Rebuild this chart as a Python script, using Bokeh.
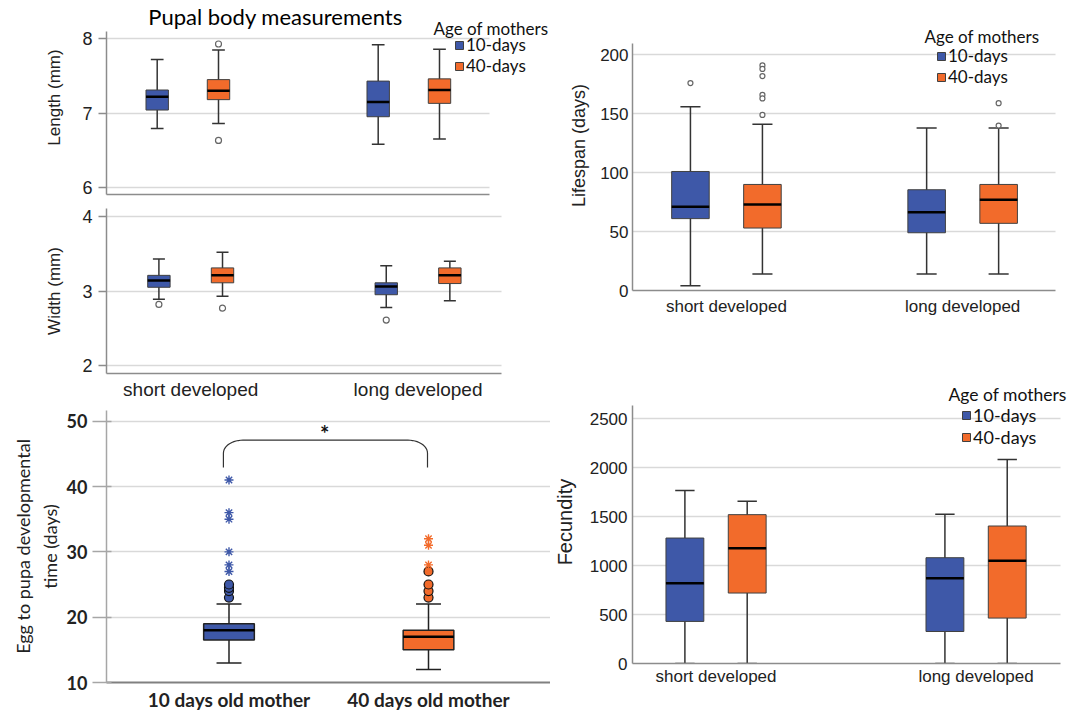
import numpy as np
from bokeh.plotting import figure
from bokeh.models import Range1d, Label, Legend, LegendItem, ColumnDataSource, FixedTicker
from bokeh.transform import dodge
from bokeh.layouts import row, column
from bokeh.embed import file_html
from bokeh.resources import INLINE
from bokeh.core.properties import value

BLUE = "#3E58A8"
ORANGE = "#F26B2B"
GRID = "#D9D9D9"
AXIS = "#8C8C8C"
SPSS = "Liberation Sans"
OFFICE = "Lato"

# ---------------- data ----------------
groups = ["short developed", "long developed"]
series = ["10-days", "40-days"]

# Pupal length (mm)  [short, long]
len10_lo = [6.79, 6.58]; len10_q1 = [7.04, 6.95]; len10_med = [7.22, 7.15]; len10_q3 = [7.31, 7.43]; len10_hi = [7.72, 7.92]
len40_lo = [6.86, 6.65]; len40_q1 = [7.18, 7.13]; len40_med = [7.30, 7.31]; len40_q3 = [7.45, 7.46]; len40_hi = [7.85, 7.86]
len40_out_grp = ["short developed", "short developed"]; len40_out_val = [7.93, 6.63]

# Pupal width (mm)
wid10_lo = [2.89, 2.78]; wid10_q1 = [3.05, 2.95]; wid10_med = [3.14, 3.06]; wid10_q3 = [3.21, 3.11]; wid10_hi = [3.43, 3.34]
wid40_lo = [2.93, 2.87]; wid40_q1 = [3.11, 3.10]; wid40_med = [3.21, 3.21]; wid40_q3 = [3.31, 3.31]; wid40_hi = [3.52, 3.40]
wid10_out_grp = ["short developed", "long developed"]; wid10_out_val = [2.82, 2.61]
wid40_out_grp = ["short developed"]; wid40_out_val = [2.77]

# Lifespan (days)
life10_lo = [4, 14]; life10_q1 = [61, 49]; life10_med = [71, 66.5]; life10_q3 = [101, 85.5]; life10_hi = [156, 138]
life40_lo = [14, 14]; life40_q1 = [53, 57]; life40_med = [73, 77]; life40_q3 = [90, 90]; life40_hi = [141, 138]
life10_out_grp = ["short developed"]; life10_out_val = [176]
life40_out_grp = ["short developed"] * 6 + ["long developed"] * 2
life40_out_val = [191, 188, 182, 166, 163, 149, 159, 140]

# Fecundity
fec10_lo = [0, 0]; fec10_q1 = [430, 327]; fec10_med = [819, 870]; fec10_q3 = [1282, 1081]; fec10_hi = [1767, 1525]
fec40_lo = [0, 0]; fec40_q1 = [720, 464]; fec40_med = [1177, 1050]; fec40_q3 = [1521, 1405]; fec40_hi = [1658, 2084]

# Egg to pupa developmental time (days)
mothers = ["10 days old mother", "40 days old mother"]
egg_lo = [13, 12]; egg_q1 = [16.5, 15]; egg_med = [18, 17]; egg_q3 = [19, 18]; egg_hi = [22, 22]
egg10_mild = [23, 24, 24.5, 25]; egg40_mild = [23, 24, 25, 27]
egg10_extreme = [27, 28, 30, 35, 36, 41]; egg40_extreme = [28, 31, 32]


# ---------------- helpers ----------------
def make_fig(w, h, xr, yr, mb):
    p = figure(width=w, height=h, x_range=Range1d(*xr), y_range=Range1d(*yr),
               output_backend="svg", toolbar_location=None,
               min_border_left=mb[0], min_border_right=mb[1],
               min_border_top=mb[2], min_border_bottom=mb[3])
    p.outline_line_color = None
    p.xgrid.grid_line_color = None
    p.ygrid.grid_line_color = GRID
    p.ygrid.grid_line_width = 1.5
    return p


def style_y(p, ticks, label, font, size, lsize, tick_out, standoff, lstand, bold=False, tick_in=0):
    ax = p.yaxis[0]
    ax.ticker = FixedTicker(ticks=ticks)
    ax.axis_label = label
    ax.axis_label_text_font = font
    ax.axis_label_text_font_size = f"{lsize}px"
    ax.axis_label_text_font_style = "normal"
    ax.axis_label_text_color = "#222222"
    ax.axis_label_standoff = lstand
    ax.major_label_text_font = font
    ax.major_label_text_font_size = f"{size}px"
    ax.major_label_text_font_style = "bold" if bold else "normal"
    ax.major_label_text_color = "#222222"
    ax.major_label_standoff = standoff
    ax.major_tick_out = tick_out
    ax.major_tick_in = tick_in
    ax.major_tick_line_color = AXIS if tick_out else None
    ax.major_tick_line_width = 1.5
    ax.minor_tick_line_color = None
    ax.axis_line_color = AXIS
    ax.axis_line_width = 1.5


def style_x(p, cats, font, size, standoff, end, bold=False, color=AXIS, width=1.5):
    ax = p.xaxis[0]
    ax.ticker = FixedTicker(ticks=list(range(len(cats))))
    ax.major_label_overrides = {i: c for i, c in enumerate(cats)}
    ax.major_label_text_font = font
    ax.major_label_text_font_size = f"{size}px"
    ax.major_label_text_font_style = "bold" if bold else "normal"
    ax.major_label_text_color = "#222222"
    ax.major_label_standoff = standoff
    ax.major_tick_line_color = None
    ax.minor_tick_line_color = None
    ax.axis_line_color = color
    ax.axis_line_width = width
    ax.bounds = (p.x_range.start, end)
    p.ygrid.cross_bounds = (p.x_range.start, end)


def draw_box(p, cats, lo, q1, med, q3, hi, off, w, cap, color,
             outline="#404040", whisk="#333333", medw=2.5, boxw=1.0, pos=None):
    if pos is None:
        pos = list(range(len(cats)))
    src = ColumnDataSource(dict(cat=cats, pos=pos, lo=lo, q1=q1, med=med, q3=q3, hi=hi))
    xc = dodge("pos", off)
    p.segment(x0=xc, y0="lo", x1=xc, y1="hi", source=src, line_color=whisk, line_width=1.5)
    for fld in ("lo", "hi"):
        p.segment(x0=dodge("pos", off - cap / 2), y0=fld, x1=dodge("pos", off + cap / 2), y1=fld,
                  source=src, line_color=whisk, line_width=1.5)
    r = p.vbar(x=dodge("pos", off), width=w, bottom="q1", top="q3", source=src,
               fill_color=color, line_color=outline, line_width=boxw)
    p.segment(x0=dodge("pos", off - w / 2), y0="med", x1=dodge("pos", off + w / 2), y1="med",
              source=src, line_color="black", line_width=medw)
    return r


def draw_pts(p, cats, all_cats, vals, off, **kw):
    src = ColumnDataSource(dict(cat=cats, pos=[all_cats.index(c) for c in cats], val=vals))
    p.scatter(x=dodge("pos", off), y="val", source=src, **kw)


def add_legend(p, r10, r40, loc, spacing, fsize):
    lg = Legend(items=[LegendItem(label=series[0], renderers=[r10]),
                       LegendItem(label=series[1], renderers=[r40])],
                location=loc, orientation="vertical")
    lg.background_fill_alpha = 0
    lg.border_line_color = None
    lg.padding = 0
    lg.margin = 0
    lg.spacing = spacing
    lg.glyph_width = 10
    lg.glyph_height = 10
    lg.label_standoff = 2
    lg.label_height = 10
    lg.label_text_font = OFFICE
    lg.label_text_font_size = f"{fsize}px"
    lg.label_text_color = "#111111"
    lg.label_text_baseline = "middle"
    p.add_layout(lg)


def add_text(p, x, y, text, size, align="left", font=OFFICE, color="#111111"):
    p.add_layout(Label(x=x, y=y, x_units="screen", y_units="screen", text=text,
                       text_font=font, text_font_size=f"{size}px", text_align=align,
                       text_baseline="middle", text_color=color))


OUT = dict(marker="circle", size=6, fill_color="white", line_color="#666666", line_width=1.2)

# Left column: frames 106..550 px ; right column: frames 627..1071 px

# ---------------- Length ----------------
p1 = make_fig(550, 200, (-0.3681, 1.641), (5.902, 8.516), (106, 0, 0, 6))
style_y(p1, [6, 7, 8], "Length (mm)", SPSS, 18, 17, 8, 6, 15)
p1.yaxis[0].bounds = (5.902, 8.10)
style_x(p1, [], SPSS, 18, 0, 1.365)
d, bw, cw = 0.1387, 0.1014, 0.0575
r10 = draw_box(p1, groups, len10_lo, len10_q1, len10_med, len10_q3, len10_hi, -d, bw, cw, BLUE)
r40 = draw_box(p1, groups, len40_lo, len40_q1, len40_med, len40_q3, len40_hi, d, bw, cw, ORANGE)
draw_pts(p1, len40_out_grp, groups, len40_out_val, d, **OUT)
add_text(p1, 169, 178, "Pupal body measurements", 22, align="center", color="#000000")
add_text(p1, 327, 165.7, "Age of mothers", 17)
add_legend(p1, r10, r40, (348, 118), -5, 17)

# ---------------- Width ----------------
p2 = make_fig(550, 210, (-0.3704, 1.5826), (1.893, 4.107), (106, 0, 8, 37))
style_y(p2, [2, 3, 4], "Width (mm)", SPSS, 18, 17, 8, 6, 15)
style_x(p2, groups, SPSS, 19, -1, 1.367)
d, bw, cw = 0.1399, 0.0985, 0.0528
draw_box(p2, groups, wid10_lo, wid10_q1, wid10_med, wid10_q3, wid10_hi, -d, bw, cw, BLUE)
draw_box(p2, groups, wid40_lo, wid40_q1, wid40_med, wid40_q3, wid40_hi, d, bw, cw, ORANGE)
draw_pts(p2, wid10_out_grp, groups, wid10_out_val, -d, **OUT)
draw_pts(p2, wid40_out_grp, groups, wid40_out_val, d, **OUT)

# ---------------- Egg to pupa ----------------
p4 = make_fig(550, 310, (-0.614, 1.6115), (10, 51.64), (106, 0, 0, 38))
style_y(p4, [10, 20, 30, 40, 50], "Egg to pupa developmental\ntime (days)", OFFICE, 18, 18, 14, 5, 3,
        bold=True, tick_in=5)
p4.yaxis[0].major_tick_line_color = "#A6A6A6"
p4.yaxis[0].axis_line_color = "#A6A6A6"
style_x(p4, mothers, OFFICE, 19, -1, 1.6115, bold=True, color="#808080", width=2)
bw, cw = 0.254, 0.125
draw_box(p4, mothers[:1], egg_lo[:1], egg_q1[:1], egg_med[:1], egg_q3[:1], egg_hi[:1], 0, bw, cw, BLUE,
         outline="#222222", whisk="#222222", medw=2.5, boxw=1.5, pos=[0])
draw_box(p4, mothers[1:], egg_lo[1:], egg_q1[1:], egg_med[1:], egg_q3[1:], egg_hi[1:], 0, bw, cw, ORANGE,
         outline="#222222", whisk="#222222", medw=2.5, boxw=1.5, pos=[1])
draw_pts(p4, [mothers[0]] * len(egg10_mild), mothers, egg10_mild, 0, marker="circle", size=9,
         fill_color=BLUE, line_color="#111111", line_width=1.2)
draw_pts(p4, [mothers[1]] * len(egg40_mild), mothers, egg40_mild, 0, marker="circle", size=9,
         fill_color=ORANGE, line_color="#111111", line_width=1.2)
draw_pts(p4, [mothers[0]] * len(egg10_extreme), mothers, egg10_extreme, 0, marker="asterisk", size=9,
         line_color=BLUE, line_width=1.4)
draw_pts(p4, [mothers[1]] * len(egg40_extreme), mothers, egg40_extreme, 0, marker="asterisk", size=9,
         line_color=ORANGE, line_width=1.4)
# significance bracket between the two groups
x_a, x_b = 0 - 0.028, 1 - 0.005
rx, ry = 0.098, 2.0
y_top, y_foot = 47.1, 42.9
t1 = np.linspace(np.pi, np.pi / 2, 14)
t2 = np.linspace(np.pi / 2, 0, 14)
bx = np.concatenate([[x_a], x_a + rx + rx * np.cos(t1), x_b - rx + rx * np.cos(t2), [x_b]])
by = np.concatenate([[y_foot], y_top - ry + ry * np.sin(t1), y_top - ry + ry * np.sin(t2), [y_foot]])
p4.line(x=bx, y=by, line_color="#333333", line_width=1.2)
p4.text(x=[0.479], y=[48.1], text=["*"], text_font=value(OFFICE),
        text_font_size="22px", text_font_style="bold", text_align="center",
        text_baseline="middle", text_color="#111111")

# ---------------- Lifespan ----------------
p3 = make_fig(521, 380, (-0.3977, 1.4609), (0, 246.1), (77, 0, 0, 90))
style_y(p3, [0, 50, 100, 150, 200], "Lifespan (days)", SPSS, 17, 18, 0, 4, 8)
p3.yaxis[0].bounds = (0, 209.8)
style_x(p3, groups, SPSS, 17, 0, 1.394)
d, bw, cw = 0.1524, 0.159, 0.085
r10 = draw_box(p3, groups, life10_lo, life10_q1, life10_med, life10_q3, life10_hi, -d, bw, cw, BLUE)
r40 = draw_box(p3, groups, life40_lo, life40_q1, life40_med, life40_q3, life40_hi, d, bw, cw, ORANGE)
draw_pts(p3, life10_out_grp, groups, life10_out_val, -d, **dict(OUT, size=5))
draw_pts(p3, life40_out_grp, groups, life40_out_val, d, **dict(OUT, size=5))
add_text(p3, 292, 254, "Age of mothers", 17)
add_legend(p3, r10, r40, (304, 203), -2, 17)

# ---------------- Fecundity ----------------
p5 = make_fig(521, 340, (-0.3213, 1.367), (0, 2891.8), (77, 0, 0, 57))
style_y(p5, [0, 500, 1000, 1500, 2000, 2500], "Fecundity", SPSS, 17, 20, 0, 5, 11)
p5.yaxis[0].bounds = (0, 2636)
style_x(p5, groups, SPSS, 17, -3, 1.325)
d, bw, cw = 0.1198, 0.1456, 0.0745
r10 = draw_box(p5, groups, fec10_lo, fec10_q1, fec10_med, fec10_q3, fec10_hi, -d, bw, cw, BLUE)
r40 = draw_box(p5, groups, fec40_lo, fec40_q1, fec40_med, fec40_q3, fec40_hi, d, bw, cw, ORANGE)
add_text(p5, 316, 269, "Age of mothers", 17.5)
add_legend(p5, r10, r40, (329, 215.5), -2, 18)

layout = row(column(p1, p2, p4), column(p3, p5))
open("out.html", "w").write(file_html(layout, INLINE))
